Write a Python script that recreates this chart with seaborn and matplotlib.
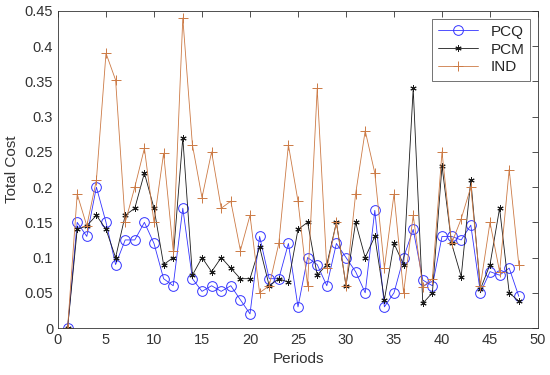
import seaborn as sns
import pandas as pd
import matplotlib.pyplot as plt

periods = list(range(1, 49))

pcq = [0, 0.15, 0.13, 0.20, 0.15, 0.09, 0.125, 0.125, 0.15, 0.12,
       0.07, 0.06, 0.17, 0.07, 0.052, 0.06, 0.052, 0.06, 0.04, 0.02,
       0.13, 0.07, 0.07, 0.12, 0.03, 0.10, 0.09, 0.06, 0.12, 0.10,
       0.08, 0.05, 0.167, 0.03, 0.05, 0.10, 0.14, 0.068, 0.06, 0.13,
       0.13, 0.125, 0.146, 0.05, 0.08, 0.075, 0.085, 0.045]

pcm = [0, 0.14, 0.145, 0.16, 0.14, 0.10, 0.16, 0.17, 0.22, 0.17,
       0.09, 0.10, 0.27, 0.075, 0.10, 0.08, 0.10, 0.085, 0.07, 0.07,
       0.115, 0.06, 0.07, 0.065, 0.14, 0.15, 0.075, 0.09, 0.15, 0.06,
       0.15, 0.10, 0.13, 0.04, 0.12, 0.09, 0.34, 0.035, 0.05, 0.23,
       0.12, 0.073, 0.21, 0.055, 0.09, 0.17, 0.05, 0.038]

ind = [0, 0.19, 0.145, 0.21, 0.39, 0.352, 0.15, 0.20, 0.255, 0.15,
       0.248, 0.11, 0.44, 0.26, 0.185, 0.25, 0.17, 0.18, 0.11, 0.16,
       0.05, 0.06, 0.12, 0.26, 0.18, 0.06, 0.34, 0.085, 0.15, 0.06,
       0.19, 0.28, 0.22, 0.085, 0.19, 0.05, 0.16, 0.058, 0.07, 0.25,
       0.12, 0.155, 0.20, 0.06, 0.15, 0.08, 0.225, 0.09]

df = pd.DataFrame({'Periods': periods, 'PCQ': pcq, 'PCM': pcm, 'IND': ind})

sns.set_style('white')
plt.rcParams['font.family'] = ['Liberation Sans', 'DejaVu Sans']

fig = plt.figure(figsize=(5.5, 3.75), dpi=100)
ax = fig.add_axes([58 / 550, 1 - 328 / 375, 480 / 550, 317 / 375])

# (column, colour, marker, size)
series = [('PCQ', '#3333ff', 'o', 7),
          ('PCM', '#1a1a1a', (6, 2, 0), 4.5),
          ('IND', '#cc7a45', '+', 7)]
for name, col, mk, ms in series:
    sns.lineplot(data=df, x='Periods', y=name, ax=ax, color=col, lw=0.6,
                 marker=mk, markersize=ms, markerfacecolor='none',
                 markeredgecolor=col, markeredgewidth=0.7, label=name)

ax.set_xlim(0, 50)
ax.set_ylim(0, 0.45)
ax.set_xticks(range(0, 51, 5))
ax.set_yticks([i * 0.05 for i in range(10)])
ax.set_yticklabels(['0', '0.05', '0.1', '0.15', '0.2', '0.25', '0.3',
                    '0.35', '0.4', '0.45'])
ax.set_xlabel('Periods', fontsize=11, color='#333333')
ax.set_ylabel('Total Cost', fontsize=11, color='#333333')
ax.tick_params(direction='in', length=4, width=0.6, colors='#333333',
               labelsize=10.5, top=True, right=True,
               labeltop=False, labelright=False)
for s in ax.spines.values():
    s.set_color('#333333')
    s.set_linewidth(0.6)

leg = ax.legend(loc='upper right', fontsize=11, frameon=True, fancybox=False,
                edgecolor='#333333', handlelength=2.6, borderpad=0.4,
                labelspacing=0.25)
leg.get_frame().set_linewidth(0.6)

fig.savefig('out.png', dpi=100)
